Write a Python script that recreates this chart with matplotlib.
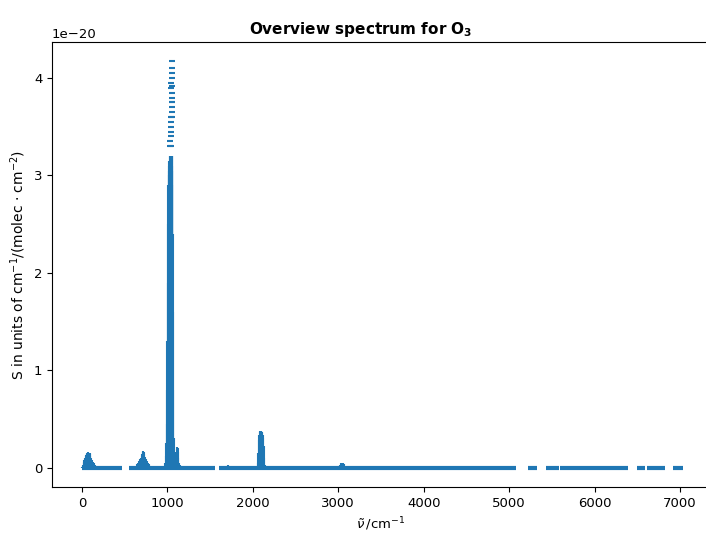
import numpy as np
import matplotlib
matplotlib.use('Agg')
import matplotlib.pyplot as plt

plt.rcParams['font.size'] = 9.5

# line positions (cm-1) and intensities (units of 1e-20 cm-1/(molec cm-2))
rot_nu = [5, 10, 15, 20, 25, 30, 35, 40, 45, 50, 55, 60, 65, 70, 75, 80, 85, 90, 95, 100,
          110, 120, 130, 140, 150, 160, 170, 180, 200, 220]
rot_S = [.01, .02, .03, .045, .06, .075, .09, .10, .115, .125, .135, .14, .148, .152, .155, .154,
         .15, .145, .135, .12, .10, .08, .06, .045, .03, .02, .013, .008, .004, .002]

nu2_nu = [580, 600, 620, 640, 655, 670, 680, 690, 700, 705, 710, 715, 720, 725, 730, 740, 750,
          760, 770, 780, 790, 800, 820, 840, 860, 875]
nu2_S = [.005, .01, .02, .035, .05, .07, .085, .10, .12, .135, .15, .16, .165, .158, .14, .11, .09,
         .07, .05, .04, .03, .02, .012, .008, .004, .002]

nu3_nu = [975, 980, 985, 990, 995, 1000, 1004, 1008, 1012, 1015, 1018, 1021, 1024, 1026, 1028,
          1030, 1032, 1034, 1036, 1038, 1040, 1042, 1044, 1046, 1048, 1050, 1052, 1054, 1056,
          1058, 1060, 1063, 1066, 1070, 1075, 1080]
nu3_S = [.05, .12, .25, .45, .8, 1.3, 1.9, 2.5, 2.9, 3.0, 3.05, 3.1, 3.15, 3.15, 3.2, 3.2, 3.15,
         3.1, 3.1, 3.05, 3.0, 3.1, 3.15, 3.2, 3.2, 3.2, 3.2, 3.2, 3.1, 3.05, 2.9, 2.4, 1.6, 0.8, 0.3, .08]

# strongest lines at the top of the band
strong_nu = [1030, 1036, 1040, 1044, 1046, 1048, 1050, 1052, 1054, 1054, 1056, 1050, 1048,
             1046, 1052, 1054, 1044, 1050, 1053, 1055, 1047, 1051]
strong_S = [3.3, 3.35, 3.4, 3.45, 3.5, 3.55, 3.6, 3.65, 3.7, 3.75, 3.8, 3.85, 3.9, 3.95, 4.0,
            4.05, 3.6, 3.75, 3.92, 4.1, 3.3, 4.17]

nu1_nu = [1085, 1090, 1095, 1100, 1105, 1110, 1115, 1120, 1125, 1130, 1140, 1150, 1165, 1180]
nu1_S = [.05, .06, .08, .12, .16, .19, .21, .2, .16, .1, .05, .03, .015, .008]

b1700_nu = [1690, 1700, 1710, 1720, 1740, 1760]
b1700_S = [.01, .02, .025, .02, .01, .005]

b2100_nu = [2050, 2060, 2065, 2070, 2075, 2080, 2085, 2090, 2095, 2100, 2105, 2110, 2115, 2120,
            2125, 2130, 2140, 2150, 2170]
b2100_S = [.01, .05, .15, .28, .33, .36, .37, .38, .375, .37, .36, .35, .33, .3, .22, .1, .03,
           .02, .01]

b2800_nu = [2770, 2790, 2810]
b2800_S = [.005, .01, .008]

b3000_nu = [3000, 3020, 3035, 3050, 3065, 3080]
b3000_S = [.01, .03, .045, .05, .035, .015]

# ranges covered by very weak lines (near zero)
weak_start = [0, 550, 1610, 5215, 5425, 5600, 6490, 6615, 6920]
weak_end = [470, 1560, 5075, 5330, 5580, 6395, 6595, 6825, 7030]

nu = np.array(rot_nu + nu2_nu + nu3_nu + nu1_nu + b1700_nu + b2100_nu + b2800_nu + b3000_nu)
S = np.array(rot_S + nu2_S + nu3_S + nu1_S + b1700_S + b2100_S + b2800_S + b3000_S) * 1e-20

fig = plt.figure(figsize=(7.06, 5.34), dpi=100)
ax = fig.add_axes([52/706, 1 - 487/534, (710 - 52)/706, (487 - 42)/534])

ax.hlines(np.zeros(len(weak_start)), weak_start, weak_end, color='C0', lw=3)
ax.vlines(nu, 0, S, color='C0', lw=1.5)
ax.plot(strong_nu, np.array(strong_S) * 1e-20, ls='none', marker='_', ms=5, mew=1.5, color='C0')

ax.set_xlim(-350, 7350)
ax.set_ylim(-0.2e-20, 4.37e-20)
ax.set_xticks(range(0, 7001, 1000))
ax.set_title(r'Overview spectrum for $\mathbf{O_3}$', fontweight='bold', fontsize=11,
             x=(361 - 52)/658)
ax.set_xlabel(r'$\tilde{\nu}\,$/cm$^{-1}$')
ax.set_ylabel(r'S in units of cm$^{-1}$/(molec $\cdot$ cm$^{-2}$)', fontsize=10)

fig.savefig('out.png', dpi=100)
